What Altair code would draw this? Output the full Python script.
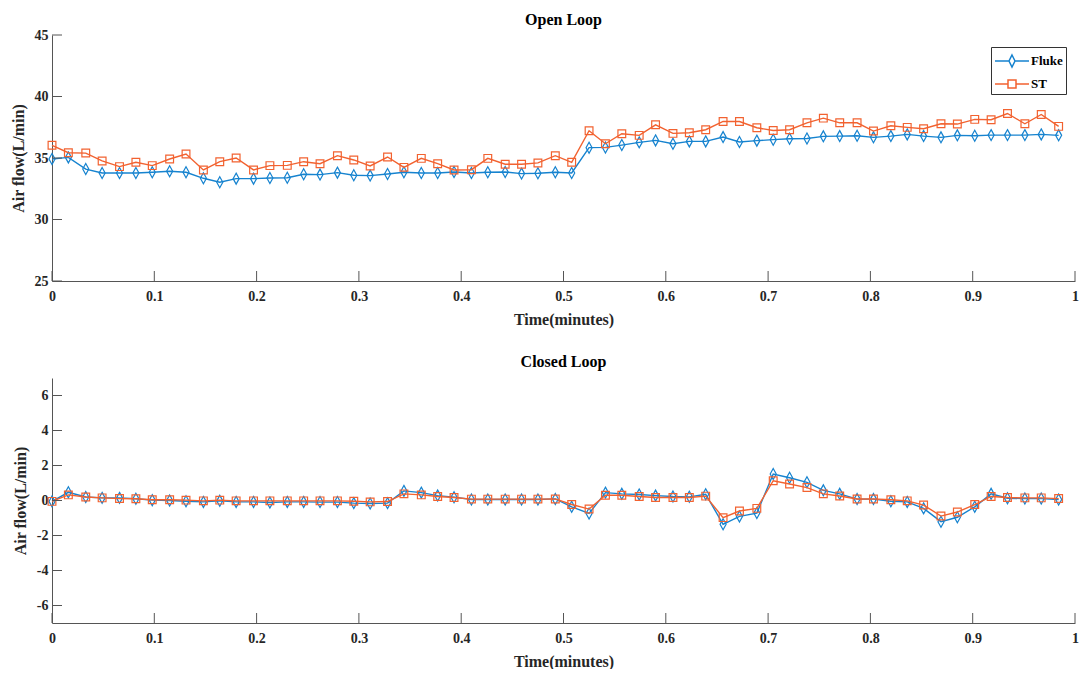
import altair as alt
import pandas as pd

# ---------------- data ----------------
time_min = [0.000, 0.016, 0.033, 0.049, 0.066, 0.082, 0.098, 0.115, 0.131, 0.148,
            0.164, 0.180, 0.197, 0.213, 0.230, 0.246, 0.262, 0.279, 0.295, 0.311,
            0.328, 0.344, 0.361, 0.377, 0.393, 0.410, 0.426, 0.443, 0.459, 0.475,
            0.492, 0.508, 0.525, 0.541, 0.557, 0.574, 0.590, 0.607, 0.623, 0.639,
            0.656, 0.672, 0.689, 0.705, 0.721, 0.738, 0.754, 0.770, 0.787, 0.803,
            0.820, 0.836, 0.852, 0.869, 0.885, 0.902, 0.918, 0.934, 0.951, 0.967,
            0.984]

open_fluke = [34.92, 35.05, 34.10, 33.78, 33.78, 33.78, 33.84, 33.92, 33.84, 33.35,
              33.03, 33.32, 33.32, 33.38, 33.40, 33.68, 33.65, 33.81, 33.60, 33.57,
              33.70, 33.84, 33.78, 33.78, 33.86, 33.78, 33.84, 33.86, 33.73, 33.76,
              33.84, 33.78, 35.84, 35.86, 36.05, 36.27, 36.43, 36.16, 36.35, 36.35,
              36.70, 36.30, 36.41, 36.49, 36.57, 36.59, 36.76, 36.78, 36.81, 36.68,
              36.78, 36.92, 36.78, 36.68, 36.84, 36.81, 36.86, 36.86, 36.86, 36.92,
              36.84]

open_st = [36.03, 35.43, 35.40, 34.76, 34.30, 34.65, 34.38, 34.92, 35.32, 34.03,
           34.70, 35.00, 34.03, 34.38, 34.40, 34.70, 34.54, 35.19, 34.84, 34.35,
           35.08, 34.24, 34.97, 34.54, 34.03, 34.05, 34.97, 34.49, 34.49, 34.60,
           35.19, 34.65, 37.22, 36.16, 36.97, 36.84, 37.70, 37.00, 37.05, 37.30,
           37.97, 37.97, 37.46, 37.24, 37.30, 37.86, 38.24, 37.86, 37.86, 37.19,
           37.62, 37.49, 37.38, 37.78, 37.76, 38.14, 38.11, 38.62, 37.78, 38.54,
           37.57]

closed_fluke = [-0.05, 0.47, 0.20, 0.15, 0.15, 0.10, 0.02, 0.00, -0.04, -0.08,
                -0.02, -0.08, -0.08, -0.11, -0.08, -0.08, -0.09, -0.09, -0.15, -0.17,
                -0.15, 0.55, 0.45, 0.28, 0.19, 0.06, 0.06, 0.06, 0.06, 0.06,
                0.09, -0.36, -0.74, 0.45, 0.38, 0.34, 0.28, 0.23, 0.21, 0.36,
                -1.36, -0.91, -0.72, 1.51, 1.30, 1.04, 0.58, 0.38, 0.08, 0.08,
                -0.04, -0.08, -0.45, -1.21, -0.96, -0.36, 0.38, 0.13, 0.11, 0.11,
                0.06]

closed_st = [-0.05, 0.32, 0.20, 0.15, 0.11, 0.10, 0.04, 0.04, 0.02, -0.02,
             0.02, -0.02, -0.02, -0.02, -0.02, -0.02, -0.02, -0.02, -0.04, -0.08,
             -0.06, 0.38, 0.32, 0.23, 0.17, 0.08, 0.08, 0.08, 0.08, 0.08,
             0.09, -0.23, -0.49, 0.30, 0.30, 0.23, 0.17, 0.17, 0.17, 0.25,
             -0.98, -0.60, -0.45, 1.13, 0.94, 0.74, 0.38, 0.26, 0.09, 0.09,
             0.04, -0.02, -0.26, -0.89, -0.66, -0.23, 0.23, 0.17, 0.15, 0.15,
             0.11]

series_names = ["Fluke", "ST"]
x_ticks = [0, 0.1, 0.2, 0.3, 0.4, 0.5, 0.6, 0.7, 0.8, 0.9, 1]
open_y_ticks = [25, 30, 35, 40, 45]
closed_y_ticks = [-6, -4, -2, 0, 2, 4, 6]

# ---------------- styling ----------------
COLORS = ["#1683cf", "#f26230"]
FONT = "Liberation Serif"
TEXT = "#262626"
AXIS = "#555555"
W = 1023
TICK = 10

DIAMOND = "M0,-1L0.55,0L0,1L-0.55,0Z"
LEGEND_PATHS = [
    "M-1.7,0H-0.3M0.3,0H1.7M0,-0.6L0.3,0L0,0.6L-0.3,0Z",
    "M-1.7,0H-0.4M0.4,0H1.7M-0.4,-0.4H0.4V0.4H-0.4Z",
]


def series_df(vals, name):
    return pd.DataFrame({"t": time_min, "v": vals, "series": name})


def panel(fluke, st, title, ydom, yticks, legend_y, title_offset, H):
    x_enc = alt.X("t:Q", scale=alt.Scale(domain=[0, 1], nice=False, zero=False),
                  axis=alt.Axis(values=x_ticks, format="~g", title="Time(minutes)"))
    y_enc = alt.Y("v:Q", scale=alt.Scale(domain=ydom, nice=False, zero=False),
                  axis=alt.Axis(values=yticks, title="Air flow(L/min)",
                                labelExpr="'' + datum.value"))

    df_f = series_df(fluke, "Fluke")
    df_s = series_df(st, "ST")

    layers = []
    for df, col, kind in [(df_f, COLORS[0], "diamond"), (df_s, COLORS[1], "square")]:
        line = alt.Chart(df).mark_line(color=col, strokeWidth=1.4).encode(x=x_enc, y=y_enc)
        if kind == "diamond":
            pts = alt.Chart(df).mark_point(shape=DIAMOND, size=121, filled=False,
                                           color=col, strokeWidth=1.2, opacity=1)
        else:
            pts = alt.Chart(df).mark_point(shape="square", size=60, filled=False,
                                           color=col, strokeWidth=1.2, opacity=1)
        layers += [line, pts.encode(x=x_enc, y=y_enc)]

    # inward ticks (MATLAB style)
    xt = alt.Chart(pd.DataFrame({"t": x_ticks})).mark_rule(color=AXIS, strokeWidth=1).encode(
        x=x_enc, y=alt.value(H), y2=alt.value(H - TICK))
    yt = alt.Chart(pd.DataFrame({"v": yticks})).mark_rule(color=AXIS, strokeWidth=1).encode(
        y=y_enc, x=alt.value(0), x2=alt.value(TICK))

    both = pd.concat([df_f, df_s])
    legend_layer = alt.Chart(both).transform_filter("false").mark_point(
        filled=False, size=400, strokeWidth=1.5, opacity=1).encode(
        color=alt.Color("series:N", scale=alt.Scale(domain=series_names, range=COLORS),
                        legend=alt.Legend(title=None, orient="none", legendX=939, legendY=legend_y)),
        shape=alt.Shape("series:N", scale=alt.Scale(domain=series_names, range=LEGEND_PATHS),
                        legend=alt.Legend(title=None, orient="none", legendX=939, legendY=legend_y)),
    )

    return alt.layer(*layers, xt, yt, legend_layer).properties(
        width=W, height=H,
        title=alt.Title(title, font=FONT, fontSize=16, fontWeight="bold", color="black",
                        offset=title_offset, anchor="middle", frame="group"),
    )


top = panel(open_fluke, open_st, "Open Loop", [25, 45], open_y_ticks, 12, 0, 246)
bottom = panel(closed_fluke, closed_st, "Closed Loop", [-7, 7], closed_y_ticks, 10, 8, 245)

chart = alt.vconcat(top, bottom, spacing=27).properties(
    padding={"left": 2, "top": 4, "right": 0, "bottom": 0}
).configure_view(stroke=None).configure_axis(
    grid=False, ticks=False, domainColor=AXIS, domainWidth=1,
    labelFont=FONT, labelFontSize=14, labelColor=TEXT, labelFontWeight="bold",
    titleFont=FONT, titleFontSize=16, titleColor=TEXT, titleFontWeight="bold",
).configure_axisX(labelPadding=8, titlePadding=8, labelFlush=False).configure_axisY(
    labelPadding=4, titlePadding=8,
).configure_legend(
    padding=3, strokeColor="#333333", fillColor="white", cornerRadius=0,
    symbolOffset=7, labelOffset=8, rowPadding=3, symbolSize=400, symbolStrokeWidth=1.5,
    labelFont=FONT, labelFontSize=13, labelFontWeight="bold", labelColor="black",
)

chart.save("out.html", embed_options={"renderer": "svg", "actions": False})
